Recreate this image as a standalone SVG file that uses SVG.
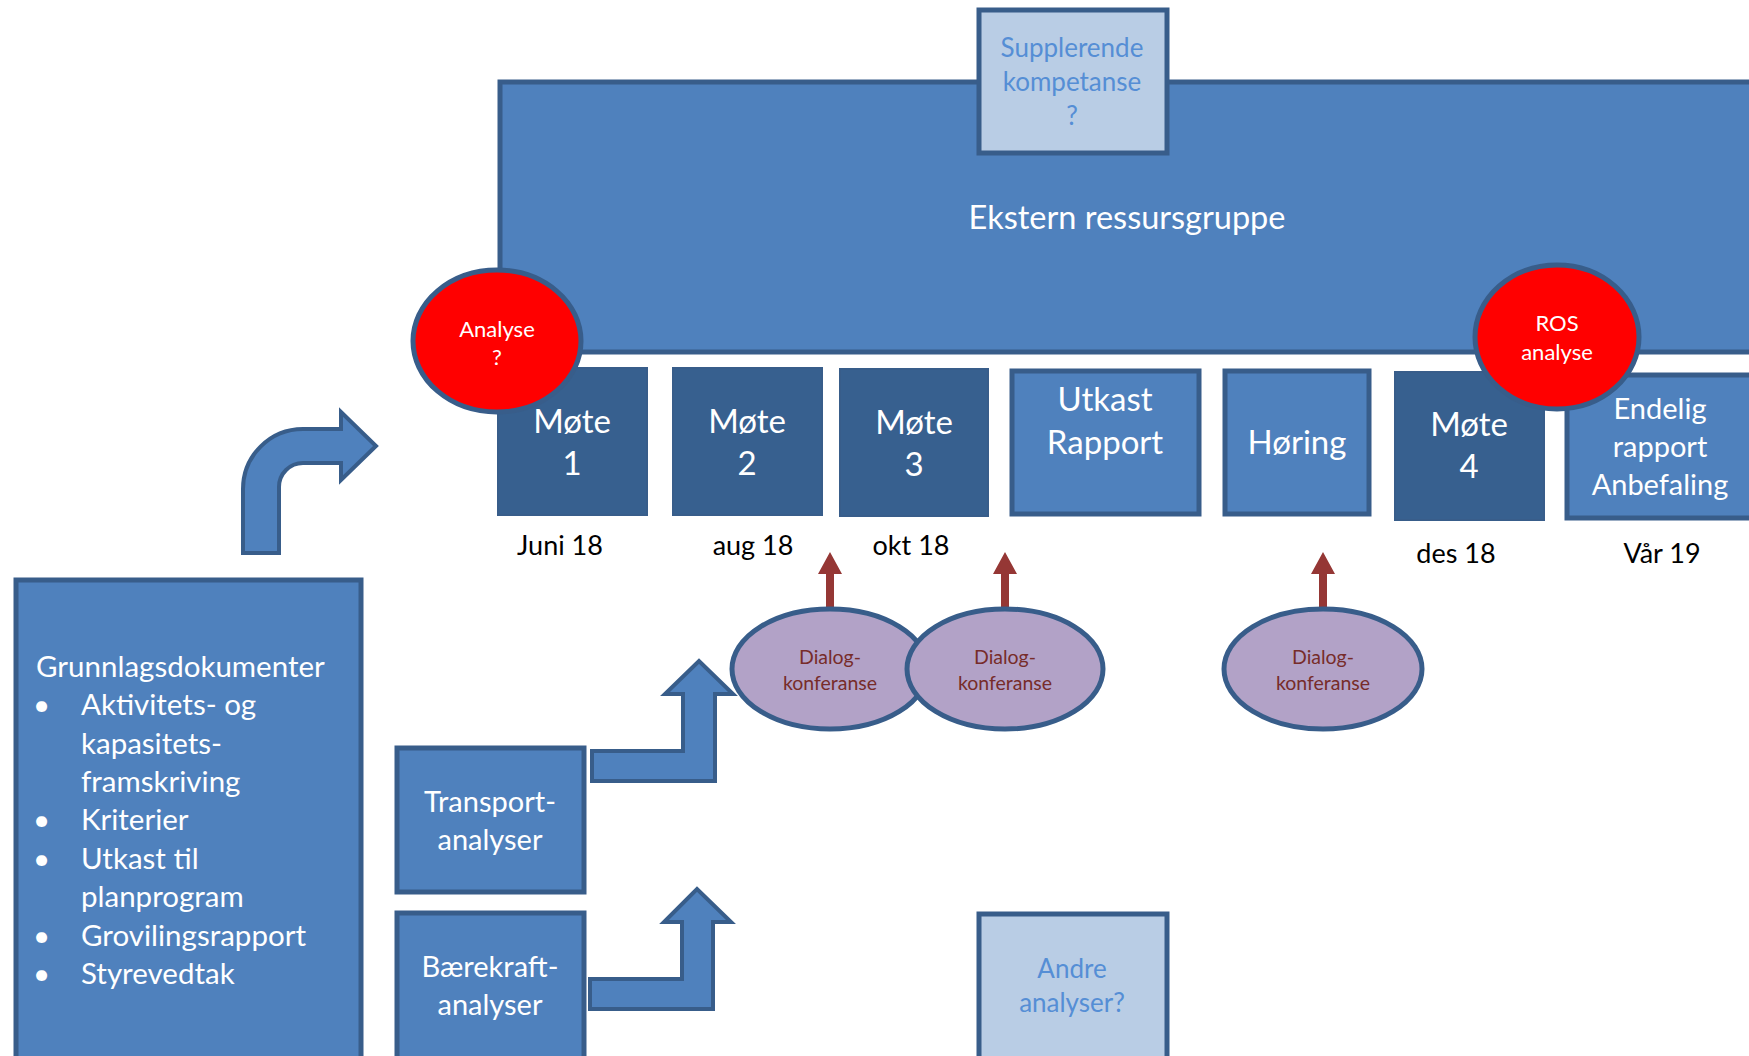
<svg xmlns="http://www.w3.org/2000/svg" width="1749" height="1056" viewBox="0 0 1749 1056">
<style>
.box{fill:#4F81BD;stroke:#385D8A;stroke-width:5}
.dark{fill:#37608F;stroke:#385D8A;stroke-width:2}
.light{fill:#B9CDE5;stroke:#385D8A;stroke-width:5}
.red{fill:#FF0000;stroke:#385D8A;stroke-width:5}
.dlg{fill:#B2A2C7;stroke:#385D8A;stroke-width:5}
.arr{fill:#4F81BD;stroke:#385D8A;stroke-width:4;stroke-linejoin:miter}
.rarr{fill:#953735}
text{font-family:Lato,"Liberation Sans",sans-serif;dominant-baseline:central}
.w{fill:#FFFFFF;text-anchor:middle}
.lb{fill:#558ED5;text-anchor:middle}
.k{fill:#000000;text-anchor:middle;font-size:27px}
.dt{fill:#772C2A;text-anchor:middle;font-size:19.5px}
.wl{fill:#FFFFFF;font-size:29.5px}
</style>
<rect width="1749" height="1056" fill="#FFFFFF"/>
<g id="ekstern">
<rect class="box" x="500" y="82" width="1260" height="270"/>
<text class="w" x="1127" y="216" font-size="32.5">Ekstern ressursgruppe</text>
</g>
<g id="supplerende">
<rect class="light" x="979" y="10" width="188" height="143"/>
<text class="lb" x="1072" y="47" font-size="26">Supplerende</text>
<text class="lb" x="1072" y="81" font-size="26">kompetanse</text>
<text class="lb" x="1072" y="115" font-size="26">?</text>
</g>
<g id="mote1">
<rect class="dark" x="498" y="368" width="149" height="147"/>
<text class="w" x="572" y="420" font-size="33">Møte</text>
<text class="w" x="572" y="462" font-size="33">1</text>
</g>
<g id="mote2">
<rect class="dark" x="673" y="368" width="149" height="147"/>
<text class="w" x="747" y="420" font-size="33">Møte</text>
<text class="w" x="747" y="462" font-size="33">2</text>
</g>
<g id="mote3">
<rect class="dark" x="840" y="369" width="148" height="147"/>
<text class="w" x="914" y="421" font-size="33">Møte</text>
<text class="w" x="914" y="463" font-size="33">3</text>
</g>
<g id="utkast">
<rect class="box" x="1012" y="371" width="187" height="143"/>
<text class="w" x="1105" y="398" font-size="33">Utkast</text>
<text class="w" x="1105" y="441" font-size="33">Rapport</text>
</g>
<g id="horing">
<rect class="box" x="1225" y="371" width="144" height="143"/>
<text class="w" x="1297" y="441" font-size="33">Høring</text>
</g>
<g id="mote4">
<rect class="dark" x="1395" y="372" width="149" height="148"/>
<text class="w" x="1469" y="423" font-size="33">Møte</text>
<text class="w" x="1469" y="465" font-size="33">4</text>
</g>
<g id="endelig">
<rect class="box" x="1567" y="375" width="200" height="143"/>
<text class="w" x="1660" y="407" font-size="29">Endelig</text>
<text class="w" x="1660" y="445" font-size="29">rapport</text>
<text class="w" x="1660" y="483" font-size="29">Anbefaling</text>
</g>
<g id="analyse">
<ellipse class="red" cx="497" cy="341" rx="84" ry="71"/>
<text class="w" x="497" y="328" font-size="22">Analyse</text>
<text class="w" x="497" y="356" font-size="22">?</text>
</g>
<g id="ros">
<ellipse class="red" cx="1557" cy="337" rx="82" ry="72"/>
<text class="w" x="1557" y="322" font-size="22">ROS</text>
<text class="w" x="1557" y="351" font-size="22">analyse</text>
</g>
<g id="datoer">
<text class="k" x="560" y="544">Juni 18</text>
<text class="k" x="753" y="544">aug 18</text>
<text class="k" x="911" y="544">okt 18</text>
<text class="k" x="1456" y="552">des 18</text>
<text class="k" x="1662" y="552">Vår 19</text>
</g>
<g id="grunnlag">
<rect class="box" x="16" y="580" width="345" height="490"/>
<text class="wl" x="36" y="665">Grunnlagsdokumenter</text>
<text class="wl" x="33" y="703">•</text>
<text class="wl" x="81" y="703">Aktivitets- og</text>
<text class="wl" x="81" y="742">kapasitets-</text>
<text class="wl" x="81" y="780">framskriving</text>
<text class="wl" x="33" y="818">•</text>
<text class="wl" x="81" y="818">Kriterier</text>
<text class="wl" x="33" y="857">•</text>
<text class="wl" x="81" y="857">Utkast til</text>
<text class="wl" x="81" y="895">planprogram</text>
<text class="wl" x="33" y="934">•</text>
<text class="wl" x="81" y="934">Grovilingsrapport</text>
<text class="wl" x="33" y="972">•</text>
<text class="wl" x="81" y="972">Styrevedtak</text>
</g>
<g id="transport">
<rect class="box" x="397" y="748" width="187" height="144"/>
<text class="w" x="490" y="800" font-size="29">Transport-</text>
<text class="w" x="490" y="838" font-size="29">analyser</text>
</g>
<g id="baerekraft">
<rect class="box" x="397" y="913" width="187" height="160"/>
<text class="w" x="490" y="965" font-size="29">Bærekraft-</text>
<text class="w" x="490" y="1003" font-size="29">analyser</text>
</g>
<g id="andre">
<rect class="light" x="979" y="914" width="188" height="160"/>
<text class="lb" x="1072" y="968" font-size="26">Andre</text>
<text class="lb" x="1072" y="1002" font-size="26">analyser?</text>
</g>
<g id="connectors">
<path class="arr" d="M243,553 L243,489 A60,60 0 0 1 303,429 L341,429 L341,412 L376,446 L341,480 L341,463 L303,463 A24,24 0 0 0 279,487 L279,553 Z"/>
<path class="arr" d="M592,751 L683,751 L683,694 L665,694 L699,661 L733,694 L715,694 L715,781 L592,781 Z"/>
<path class="arr" d="M590,979 L682,979 L682,922 L664,922 L697,889 L731,922 L713,922 L713,1009 L590,1009 Z"/>
<path class="rarr" d="M826,610 L826,574 L818,574 L830,552 L842,574 L834,574 L834,610 Z"/>
<path class="rarr" d="M1001,610 L1001,574 L993,574 L1005,552 L1017,574 L1009,574 L1009,610 Z"/>
<path class="rarr" d="M1319,610 L1319,574 L1311,574 L1323,552 L1335,574 L1327,574 L1327,610 Z"/>
</g>
<g id="dialog1">
<ellipse class="dlg" cx="830" cy="669" rx="98" ry="60"/>
<text class="dt" x="830" y="656">Dialog-</text>
<text class="dt" x="830" y="682">konferanse</text>
</g>
<g id="dialog2">
<ellipse class="dlg" cx="1005" cy="669" rx="98" ry="60"/>
<text class="dt" x="1005" y="656">Dialog-</text>
<text class="dt" x="1005" y="682">konferanse</text>
</g>
<g id="dialog3">
<ellipse class="dlg" cx="1323" cy="669" rx="99" ry="60"/>
<text class="dt" x="1323" y="656">Dialog-</text>
<text class="dt" x="1323" y="682">konferanse</text>
</g>
</svg>
